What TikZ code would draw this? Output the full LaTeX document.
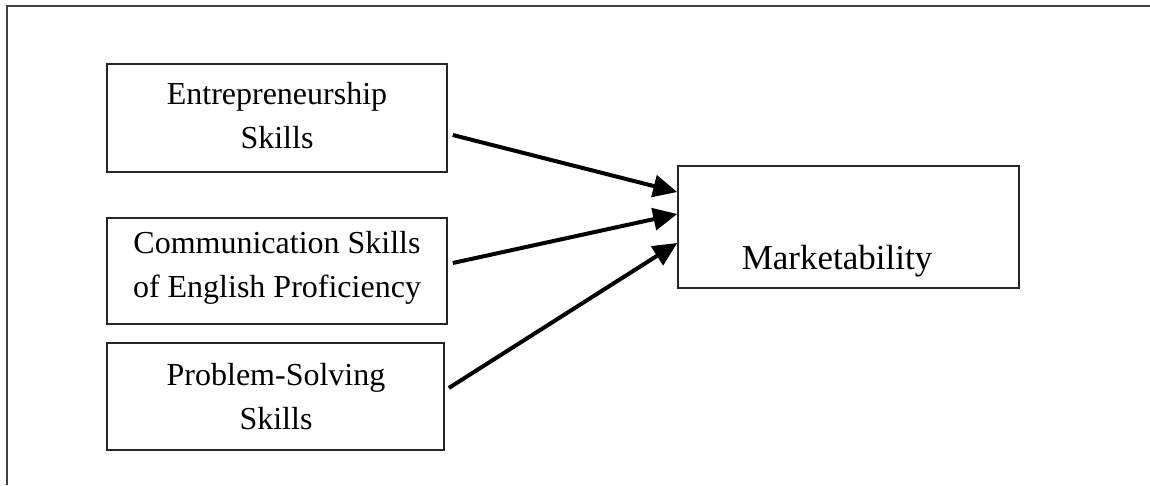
\documentclass[tikz,border=0pt]{standalone}
\usepackage{fontspec}
\setmainfont{Liberation Serif}
\usetikzlibrary{arrows.meta}
\begin{document}
\begin{tikzpicture}[x=1pt,y=-1pt,
  box/.style={draw=black!85, line width=1.6pt, rectangle, inner sep=0pt},
  caption/.style={align=center, inner sep=0pt, font=\fontsize{32}{44}\selectfont},
  link/.style={line width=4pt, -{Triangle[length=24pt,width=22pt]}}]
\useasboundingbox (0,0) rectangle (1150,485);
% frame
\draw[line width=2.2pt, black!75] (7,485) -- (7,6) -- (1150,6);
% predictor boxes
\node[box, minimum width=340pt, minimum height=108pt] (b1) at (277,118) {};
\node[box, minimum width=340pt, minimum height=106pt] (b2) at (277,271) {};
\node[box, minimum width=337pt, minimum height=107pt] (b3) at (275.5,396.5) {};
% outcome box
\node[box, minimum width=341pt, minimum height=122pt] (m) at (848.5,227) {};
% box texts
\node[caption] (t1) at (277,116) {Entrepreneurship\\Skills};
\node[caption] (t2) at (277,268) {Communication Skills\\of English Proficiency};
\node[caption] (t3) at (276,397) {Problem-Solving\\Skills};
\node[caption, font=\fontsize{35}{44}\selectfont] (t4) at (837,261) {Marketability};
% links
\draw[link] ([xshift=5pt,yshift=-17pt]b1.east) -- ([yshift=35pt]m.west);
\draw[link] ([xshift=5pt,yshift=8pt]b2.east) -- ([yshift=13pt]m.west);
\draw[link] ([xshift=4pt,yshift=8.5pt]b3.east) -- ([yshift=-16pt]m.west);
\end{tikzpicture}
\end{document}
